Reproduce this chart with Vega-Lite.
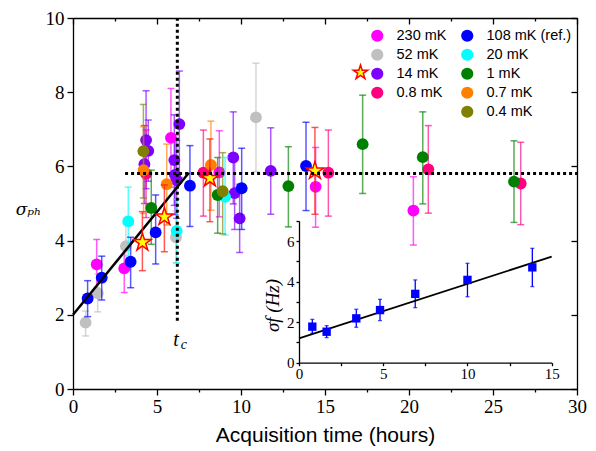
{
  "$schema": "https://vega.github.io/schema/vega-lite/v6.json",
  "width": 504,
  "height": 371,
  "autosize": {"type": "none"},
  "padding": {"left": 73, "top": 18, "right": 19, "bottom": 62},
  "background": "white",
  "config": {"view": {"stroke": null}, "axis": {"grid": false, "domainColor": "black", "tickColor": "black", "labelColor": "black", "titleColor": "black", "domainWidth": 1.3, "tickWidth": 1.3, "labelOverlap": false, "labelFlush": false, "titleFontWeight": "normal"}},
  "datasets": {
    "g1": [
      {"s": "230 mK", "x": 1.41, "y": 3.36, "lo": 2.71, "hi": 4.03},
      {"s": "230 mK", "x": 3.05, "y": 3.25, "lo": 2.6, "hi": 3.86},
      {"s": "230 mK", "x": 5.83, "y": 6.77, "lo": 5.44, "hi": 8.1},
      {"s": "230 mK", "x": 8.71, "y": 5.84, "lo": 4.64, "hi": 6.96},
      {"s": "230 mK", "x": 14.44, "y": 5.45, "lo": 4.36, "hi": 6.51},
      {"s": "230 mK", "x": 20.26, "y": 4.81, "lo": 3.88, "hi": 5.72},
      {"s": "52 mK", "x": 0.75, "y": 1.79, "lo": 1.43, "hi": 2.1},
      {"s": "52 mK", "x": 1.47, "y": 2.58, "lo": 2.08, "hi": 3.1},
      {"s": "52 mK", "x": 3.15, "y": 3.85, "lo": 3.25, "hi": 4.45},
      {"s": "52 mK", "x": 6.13, "y": 4.09, "lo": 3.4, "hi": 4.8},
      {"s": "52 mK", "x": 10.89, "y": 7.32, "lo": 5.86, "hi": 8.78},
      {"s": "14 mK", "x": 4.35, "y": 6.71, "lo": 5.4, "hi": 8.04},
      {"s": "14 mK", "x": 4.48, "y": 6.42, "lo": 5.6, "hi": 7.25},
      {"s": "14 mK", "x": 4.25, "y": 6.06, "lo": 5.0, "hi": 7.1},
      {"s": "14 mK", "x": 6.33, "y": 7.14, "lo": 5.7, "hi": 8.57},
      {"s": "14 mK", "x": 6.03, "y": 6.17, "lo": 4.95, "hi": 7.39},
      {"s": "14 mK", "x": 6.07, "y": 5.77, "lo": 4.7, "hi": 6.85},
      {"s": "14 mK", "x": 6.17, "y": 5.63, "lo": 4.6, "hi": 6.7},
      {"s": "14 mK", "x": 9.54, "y": 6.24, "lo": 4.99, "hi": 7.47},
      {"s": "14 mK", "x": 9.62, "y": 5.28, "lo": 4.3, "hi": 6.25},
      {"s": "14 mK", "x": 9.92, "y": 4.6, "lo": 3.68, "hi": 5.52},
      {"s": "14 mK", "x": 11.77, "y": 5.88, "lo": 4.71, "hi": 7.04},
      {"s": "0.8 mK", "x": 4.35, "y": 5.8, "lo": 4.62, "hi": 6.98},
      {"s": "0.8 mK", "x": 7.76, "y": 5.83, "lo": 4.66, "hi": 6.98},
      {"s": "0.8 mK", "x": 15.2, "y": 5.83, "lo": 4.66, "hi": 6.98},
      {"s": "0.8 mK", "x": 21.15, "y": 5.92, "lo": 4.74, "hi": 7.1},
      {"s": "0.8 mK", "x": 26.65, "y": 5.54, "lo": 4.43, "hi": 6.65}
    ],
    "g2": [
      {"s": "108 mK (ref.)", "x": 0.87, "y": 2.44, "lo": 1.95, "hi": 2.92},
      {"s": "108 mK (ref.)", "x": 1.71, "y": 3.0, "lo": 2.4, "hi": 3.58},
      {"s": "108 mK (ref.)", "x": 3.43, "y": 3.43, "lo": 2.73, "hi": 4.09},
      {"s": "108 mK (ref.)", "x": 4.92, "y": 4.22, "lo": 3.37, "hi": 5.23},
      {"s": "108 mK (ref.)", "x": 6.96, "y": 5.48, "lo": 4.38, "hi": 6.56},
      {"s": "108 mK (ref.)", "x": 10.04, "y": 5.41, "lo": 4.3, "hi": 6.49},
      {"s": "108 mK (ref.)", "x": 13.87, "y": 6.01, "lo": 4.81, "hi": 7.19},
      {"s": "20 mK", "x": 3.29, "y": 4.52, "lo": 3.59, "hi": 5.44},
      {"s": "20 mK", "x": 6.17, "y": 4.26, "lo": 3.4, "hi": 5.11},
      {"s": "20 mK", "x": 9.05, "y": 5.18, "lo": 4.15, "hi": 6.24},
      {"s": "1 mK", "x": 4.66, "y": 4.88, "lo": 3.9, "hi": 5.9},
      {"s": "1 mK", "x": 8.61, "y": 5.23, "lo": 4.2, "hi": 6.24},
      {"s": "1 mK", "x": 12.82, "y": 5.47, "lo": 4.37, "hi": 6.53},
      {"s": "1 mK", "x": 17.24, "y": 6.6, "lo": 5.27, "hi": 7.92},
      {"s": "1 mK", "x": 20.82, "y": 6.25, "lo": 4.99, "hi": 7.47},
      {"s": "1 mK", "x": 26.25, "y": 5.59, "lo": 4.49, "hi": 6.69},
      {"s": "0.7 mK", "x": 4.2, "y": 5.9, "lo": 4.73, "hi": 7.07},
      {"s": "0.7 mK", "x": 5.58, "y": 5.52, "lo": 4.42, "hi": 6.6},
      {"s": "0.7 mK", "x": 8.21, "y": 6.04, "lo": 4.82, "hi": 7.22},
      {"s": "0.4 mK", "x": 4.19, "y": 6.41, "lo": 5.15, "hi": 7.67},
      {"s": "0.4 mK", "x": 8.91, "y": 5.33, "lo": 4.18, "hi": 6.37}
    ],
    "stars": [
      {"k": "avg", "x": 4.13, "y": 3.95, "lo": 3.19, "hi": 4.78},
      {"k": "avg", "x": 5.44, "y": 4.64, "lo": 3.7, "hi": 5.5},
      {"k": "avg", "x": 8.15, "y": 5.68, "lo": 4.51, "hi": 6.74},
      {"k": "avg", "x": 14.4, "y": 5.88, "lo": 4.71, "hi": 7.05}
    ],
    "fit": [{"x": 0, "y": 2.0}, {"x": 6.9, "y": 5.83}],
    "tc": [{"x": 6.13, "y": 1.17, "t": "t", "c": "c"}],
    "hline": [{"x": 3.1, "x2": 30, "y": 5.81}],
    "vline": [{"x": 6.21, "y": 1.84, "y2": 10}],
    "inset": [
      {"x": 0.79, "y": 1.78, "lo": 1.45, "hi": 2.14},
      {"x": 1.64, "y": 1.53, "lo": 1.24, "hi": 1.83},
      {"x": 3.4, "y": 2.19, "lo": 1.75, "hi": 2.64},
      {"x": 4.81, "y": 2.6, "lo": 2.08, "hi": 3.13},
      {"x": 6.9, "y": 3.4, "lo": 2.72, "hi": 4.09},
      {"x": 10.0, "y": 4.09, "lo": 3.26, "hi": 4.91},
      {"x": 13.85, "y": 4.71, "lo": 3.76, "hi": 5.65}
    ],
    "insetfit": [{"x": 0, "y": 1.2}, {"x": 15, "y": 5.24}]
  },
  "resolve": {"scale": {"x": "independent", "y": "independent"}},
  "layer": [
    {
      "encoding": {
        "x": {"field": "x", "type": "quantitative", "scale": {"domain": [0, 30], "nice": false, "zero": false},
          "axis": {"values": [0, 2.5, 5, 7.5, 10, 12.5, 15, 17.5, 20, 22.5, 25, 27.5, 30], "labelExpr": "datum.value % 5 === 0 ? datum.label : ''", "tickSize": {"condition": {"test": "datum.value % 5 === 0", "value": 6}, "value": 3}, "title": "Acquisition time (hours)", "titleFont": "Liberation Sans", "titleFontSize": 21, "titlePadding": 8, "labelFont": "Liberation Serif", "labelFontSize": 19, "labelPadding": 2}}
      },
      "layer": [
        {"data": {"name": "g1"}, "mark": {"type": "rule", "strokeWidth": 1.5, "opacity": 0.65},
          "encoding": {"y": {"field": "lo", "type": "quantitative", "scale": {"domain": [0, 10], "nice": false}, "axis": {"values": [0, 1, 2, 3, 4, 5, 6, 7, 8, 9, 10], "labelExpr": "datum.value % 2 === 0 ? datum.label : ''", "tickSize": {"condition": {"test": "datum.value % 2 === 0", "value": 6}, "value": 3}, "title": "σₚₕ", "titleAngle": 0, "titleX": -45, "titleY": 191, "titleAlign": "center", "titleBaseline": "middle", "titleFont": "DejaVu Serif", "titleFontStyle": "italic", "titleFontSize": 17, "labelFont": "Liberation Serif", "labelFontSize": 19, "labelPadding": 3}},
            "y2": {"field": "hi"},
            "stroke": {"field": "s", "type": "nominal", "scale": {"domain": ["230 mK", "52 mK", "14 mK", "0.8 mK", "108 mK (ref.)", "20 mK", "1 mK", "0.7 mK", "0.4 mK"], "range": ["#FF00FF", "#C0C0C0", "#7F00FF", "#FF0080", "#0000FF", "#00FFFF", "#008000", "#FF8000", "#808000"]}, "legend": null}}},
        {"data": {"name": "g1"}, "mark": {"type": "point", "shape": "stroke", "size": 49, "strokeWidth": 1.5, "opacity": 0.65},
          "encoding": {"y": {"field": "lo", "type": "quantitative", "scale": {"domain": [0, 10], "nice": false}},
            "stroke": {"field": "s", "type": "nominal", "scale": {"domain": ["230 mK", "52 mK", "14 mK", "0.8 mK", "108 mK (ref.)", "20 mK", "1 mK", "0.7 mK", "0.4 mK"], "range": ["#FF00FF", "#C0C0C0", "#7F00FF", "#FF0080", "#0000FF", "#00FFFF", "#008000", "#FF8000", "#808000"]}, "legend": null}}},
        {"data": {"name": "g1"}, "mark": {"type": "point", "shape": "stroke", "size": 49, "strokeWidth": 1.5, "opacity": 0.65},
          "encoding": {"y": {"field": "hi", "type": "quantitative", "scale": {"domain": [0, 10], "nice": false}},
            "stroke": {"field": "s", "type": "nominal", "scale": {"domain": ["230 mK", "52 mK", "14 mK", "0.8 mK", "108 mK (ref.)", "20 mK", "1 mK", "0.7 mK", "0.4 mK"], "range": ["#FF00FF", "#C0C0C0", "#7F00FF", "#FF0080", "#0000FF", "#00FFFF", "#008000", "#FF8000", "#808000"]}, "legend": null}}},
        {"data": {"name": "g1"}, "mark": {"type": "circle", "size": 140, "opacity": 1},
          "encoding": {"y": {"field": "y", "type": "quantitative", "scale": {"domain": [0, 10], "nice": false}},
            "color": {"field": "s", "type": "nominal", "scale": {"domain": ["230 mK", "52 mK", "14 mK", "0.8 mK"], "range": ["#FF00FF", "#C0C0C0", "#7F00FF", "#FF0080"]},
              "legend": {"title": null, "orient": "none", "legendX": 297, "legendY": 10.5, "symbolType": "circle", "symbolSize": 150, "symbolOpacity": 1, "symbolStrokeWidth": 0, "labelFont": "Liberation Sans", "labelFontSize": 14.5, "labelColor": "black", "labelOffset": 12, "rowPadding": 4, "padding": 0}}}},
        {"data": {"name": "g2"}, "mark": {"type": "rule", "strokeWidth": 1.5, "opacity": 0.65},
          "encoding": {"y": {"field": "lo", "type": "quantitative", "scale": {"domain": [0, 10], "nice": false}},
            "y2": {"field": "hi"},
            "stroke": {"field": "s", "type": "nominal", "scale": {"domain": ["230 mK", "52 mK", "14 mK", "0.8 mK", "108 mK (ref.)", "20 mK", "1 mK", "0.7 mK", "0.4 mK"], "range": ["#FF00FF", "#C0C0C0", "#7F00FF", "#FF0080", "#0000FF", "#00FFFF", "#008000", "#FF8000", "#808000"]}, "legend": null}}},
        {"data": {"name": "g2"}, "mark": {"type": "point", "shape": "stroke", "size": 49, "strokeWidth": 1.5, "opacity": 0.65},
          "encoding": {"y": {"field": "lo", "type": "quantitative", "scale": {"domain": [0, 10], "nice": false}},
            "stroke": {"field": "s", "type": "nominal", "scale": {"domain": ["230 mK", "52 mK", "14 mK", "0.8 mK", "108 mK (ref.)", "20 mK", "1 mK", "0.7 mK", "0.4 mK"], "range": ["#FF00FF", "#C0C0C0", "#7F00FF", "#FF0080", "#0000FF", "#00FFFF", "#008000", "#FF8000", "#808000"]}, "legend": null}}},
        {"data": {"name": "g2"}, "mark": {"type": "point", "shape": "stroke", "size": 49, "strokeWidth": 1.5, "opacity": 0.65},
          "encoding": {"y": {"field": "hi", "type": "quantitative", "scale": {"domain": [0, 10], "nice": false}},
            "stroke": {"field": "s", "type": "nominal", "scale": {"domain": ["230 mK", "52 mK", "14 mK", "0.8 mK", "108 mK (ref.)", "20 mK", "1 mK", "0.7 mK", "0.4 mK"], "range": ["#FF00FF", "#C0C0C0", "#7F00FF", "#FF0080", "#0000FF", "#00FFFF", "#008000", "#FF8000", "#808000"]}, "legend": null}}},
        {"data": {"name": "g2"}, "mark": {"type": "circle", "size": 140, "opacity": 1},
          "encoding": {"y": {"field": "y", "type": "quantitative", "scale": {"domain": [0, 10], "nice": false}},
            "fill": {"field": "s", "type": "nominal", "scale": {"domain": ["108 mK (ref.)", "20 mK", "1 mK", "0.7 mK", "0.4 mK"], "range": ["#0000FF", "#00FFFF", "#008000", "#FF8000", "#808000"]},
              "legend": {"title": null, "orient": "none", "legendX": 387, "legendY": 10.5, "symbolType": "circle", "symbolSize": 150, "symbolOpacity": 1, "symbolStrokeWidth": 0, "labelFont": "Liberation Sans", "labelFontSize": 14.5, "labelColor": "black", "labelOffset": 12, "rowPadding": 4, "padding": 0}}}},
        {"data": {"name": "fit"}, "mark": {"type": "line", "color": "black", "strokeWidth": 2.5},
          "encoding": {"y": {"field": "y", "type": "quantitative", "scale": {"domain": [0, 10], "nice": false}}}},
        {"data": {"name": "stars"}, "mark": {"type": "rule", "strokeWidth": 1.5, "color": "#FF2020", "opacity": 0.75},
          "encoding": {"y": {"field": "lo", "type": "quantitative", "scale": {"domain": [0, 10], "nice": false}}, "y2": {"field": "hi"}}},
        {"data": {"name": "stars"}, "mark": {"type": "point", "shape": "stroke", "size": 49, "strokeWidth": 1.5, "color": "#FF2020", "opacity": 0.75},
          "encoding": {"y": {"field": "lo", "type": "quantitative", "scale": {"domain": [0, 10], "nice": false}}}},
        {"data": {"name": "stars"}, "mark": {"type": "point", "shape": "stroke", "size": 49, "strokeWidth": 1.5, "color": "#FF2020", "opacity": 0.75},
          "encoding": {"y": {"field": "hi", "type": "quantitative", "scale": {"domain": [0, 10], "nice": false}}}},
        {"data": {"name": "stars"}, "mark": {"type": "point", "filled": true, "fill": "#FFFF00", "stroke": "#FF0000", "strokeWidth": 1.5, "size": 340, "opacity": 1},
          "encoding": {"y": {"field": "y", "type": "quantitative", "scale": {"domain": [0, 10], "nice": false}},
            "shape": {"field": "k", "type": "nominal", "scale": {"domain": ["avg"], "range": ["M0,-1L0.2245,-0.309L0.951,-0.309L0.363,0.118L0.588,0.809L0,0.382L-0.588,0.809L-0.363,0.118L-0.951,-0.309L-0.2245,-0.309Z"]},
              "legend": {"title": null, "orient": "none", "legendX": 279, "legendY": 46, "symbolSize": 230, "symbolOpacity": 1, "labelExpr": "''", "padding": 0,
                "encode": {"symbols": {"update": {"fill": {"value": "#FFFF00"}, "stroke": {"value": "#FF0000"}, "strokeWidth": {"value": 1.3}, "opacity": {"value": 1}}}}}}}},
        {"data": {"name": "tc"}, "mark": {"type": "text", "font": "Liberation Serif", "fontStyle": "italic", "fontSize": 20, "align": "center", "baseline": "alphabetic", "color": "black"},
          "encoding": {"y": {"field": "y", "type": "quantitative", "scale": {"domain": [0, 10], "nice": false}}, "text": {"field": "t"}}},
        {"data": {"name": "tc"}, "mark": {"type": "text", "font": "Liberation Serif", "fontStyle": "italic", "fontSize": 14, "align": "center", "baseline": "alphabetic", "color": "black", "dx": 8, "dy": 3},
          "encoding": {"y": {"field": "y", "type": "quantitative", "scale": {"domain": [0, 10], "nice": false}}, "text": {"field": "c"}}}
      ]
    },
    {
      "layer": [
        {"data": {"name": "hline"}, "mark": {"type": "rule", "color": "black", "strokeWidth": 3, "strokeDash": [3, 3]},
          "encoding": {
            "x": {"field": "x", "type": "quantitative", "scale": {"domain": [0, 30], "nice": false, "zero": false}, "axis": {"orient": "top", "values": [0, 2.5, 5, 7.5, 10, 12.5, 15, 17.5, 20, 22.5, 25, 27.5, 30], "labels": false, "title": null, "tickSize": {"condition": {"test": "datum.value % 5 === 0", "value": -6}, "value": -3}}},
            "x2": {"field": "x2"},
            "y": {"field": "y", "type": "quantitative", "scale": {"domain": [0, 10], "nice": false}, "axis": {"orient": "right", "values": [0, 1, 2, 3, 4, 5, 6, 7, 8, 9, 10], "labels": false, "title": null, "tickSize": {"condition": {"test": "datum.value % 2 === 0", "value": -6}, "value": -3}}}}},
        {"data": {"name": "vline"}, "mark": {"type": "rule", "color": "black", "strokeWidth": 3, "strokeDash": [3, 3]},
          "encoding": {
            "x": {"field": "x", "type": "quantitative", "scale": {"domain": [0, 30], "nice": false, "zero": false}},
            "y": {"field": "y", "type": "quantitative", "scale": {"domain": [0, 10], "nice": false}},
            "y2": {"field": "y2"}}}
      ]
    },
    {
      "encoding": {
        "x": {"field": "x", "type": "quantitative", "scale": {"domain": [0, 15], "range": [226, 478.7], "nice": false, "zero": false},
          "axis": {"orient": "bottom", "offset": -26.3, "values": [0, 2.5, 5, 7.5, 10, 12.5, 15], "format": "d", "labelExpr": "datum.value % 5 === 0 ? datum.label : ''", "tickSize": 3, "title": null, "labelFont": "Liberation Serif", "labelFontSize": 15, "labelPadding": 1}}
      },
      "layer": [
        {"data": {"name": "inset"}, "mark": {"type": "rule", "color": "#0000FF", "strokeWidth": 1.3},
          "encoding": {"y": {"field": "lo", "type": "quantitative", "scale": {"domain": [0, 7], "range": [344.7, 203], "nice": false},
            "axis": {"orient": "left", "offset": -226, "values": [0, 1, 2, 3, 4, 5, 6, 7], "format": "d", "labelExpr": "datum.value % 2 === 0 && datum.value < 7 ? datum.label : ''", "tickSize": 3, "labelFont": "Liberation Serif", "labelFontSize": 15, "labelPadding": 2, "title": "σf (Hz)", "titleFont": "Liberation Serif", "titleFontStyle": "italic", "titleFontSize": 19, "titleX": -27, "titleY": 287, "titleAlign": "center", "titleBaseline": "middle", "titleAngle": 270}},
            "y2": {"field": "hi"}}},
        {"data": {"name": "inset"}, "mark": {"type": "tick", "orient": "horizontal", "size": 4, "thickness": 1.3, "color": "#0000FF"},
          "encoding": {"y": {"field": "lo", "type": "quantitative", "scale": {"domain": [0, 7], "range": [344.7, 203], "nice": false}}}},
        {"data": {"name": "inset"}, "mark": {"type": "tick", "orient": "horizontal", "size": 4, "thickness": 1.3, "color": "#0000FF"},
          "encoding": {"y": {"field": "hi", "type": "quantitative", "scale": {"domain": [0, 7], "range": [344.7, 203], "nice": false}}}},
        {"data": {"name": "insetfit"}, "mark": {"type": "line", "color": "black", "strokeWidth": 1.8},
          "encoding": {"y": {"field": "y", "type": "quantitative", "scale": {"domain": [0, 7], "range": [344.7, 203], "nice": false}}}},
        {"data": {"name": "inset"}, "mark": {"type": "point", "shape": "square", "filled": true, "color": "#0000FF", "size": 70, "opacity": 1},
          "encoding": {"y": {"field": "y", "type": "quantitative", "scale": {"domain": [0, 7], "range": [344.7, 203], "nice": false}}}}
      ]
    }
  ]
}
